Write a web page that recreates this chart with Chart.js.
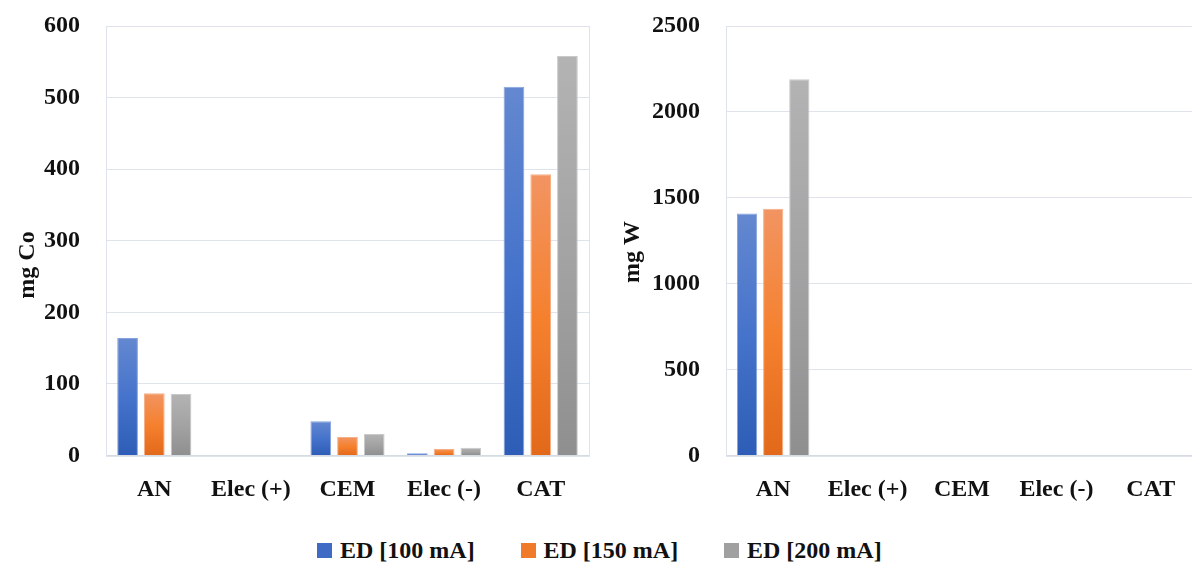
<!DOCTYPE html>
<html>
<head>
<meta charset="utf-8">
<title>Co and W mass balance</title>
<script src="https://cdn.jsdelivr.net/npm/chart.js@4.4.1/dist/chart.umd.min.js"></script>
<style>
  html, body { margin: 0; padding: 0; background: #fff; width: 1192px; height: 562px; overflow: hidden; position: relative; }
  #coBox { position: absolute; left: 0; top: 0; width: 600px; height: 520px; }
  #wBox { position: absolute; left: 600px; top: 0; width: 612px; height: 520px; }
  #legend { position: absolute; left: 317px; top: 536px; height: 28px; display: flex; }
  .item { width: 203.5px; display: flex; align-items: center; font: bold 24px "Liberation Serif", serif; color: #111; white-space: nowrap; }
  .swatch { width: 15px; height: 15px; margin-right: 8px; flex: none; }
</style>
</head>
<body>
<div id="coBox"><canvas id="coChart"></canvas></div>
<div id="wBox"><canvas id="wChart"></canvas></div>
<div id="legend"></div>
<script>
// Compartments of the electrodialysis cell
const categories = ['AN', 'Elec (+)', 'CEM', 'Elec (-)', 'CAT'];
const seriesNames = ['ED [100 mA]', 'ED [150 mA]', 'ED [200 mA]'];

// Cobalt found in each compartment (mg)
const co100 = [164, 0, 48, 3, 515];
const co150 = [87, 0, 26, 9, 393];
const co200 = [86, 0, 30, 11, 558];

// Tungsten found in each compartment (mg)
const w100 = [1408, 0, 0, 0, 0];
const w150 = [1436, 0, 0, 0, 0];
const w200 = [2190, 0, 0, 0, 0];

// Value axes
const coAxis = { min: 0, max: 600, step: 100, title: 'mg Co' };
const wAxis = { min: 0, max: 2500, step: 500, title: 'mg W' };

// Fill styles: top, middle, bottom gradient stops, outline and legend swatch
const palette = [
  { stops: ['#6488d0', '#4673cb', '#2d5db6'], edge: '#86a2dd', swatch: '#3f6bc4' },
  { stops: ['#f29462', '#f5812f', '#e2691a'], edge: '#f6ae84', swatch: '#ef7a2a' },
  { stops: ['#b3b3b3', '#a3a3a3', '#8f8f8f'], edge: '#c9c9c9', swatch: '#a0a0a0' }
];

const FONT = '"Liberation Serif", serif';
const GRID = '#dfe3eb';

function gradientFill(stops) {
  return (ctx) => {
    const chart = ctx.chart;
    if (!chart.chartArea || ctx.type !== 'data') return stops[1];
    const y = chart.scales.y;
    const top = y.getPixelForValue(ctx.raw);
    const bottom = y.getPixelForValue(0);
    if (bottom - top < 1) return stops[0];
    const g = chart.ctx.createLinearGradient(0, top, 0, bottom);
    g.addColorStop(0, stops[0]);
    g.addColorStop(0.5, stops[1]);
    g.addColorStop(1, stops[2]);
    return g;
  };
}

// Plot frame drawn behind the bars
const framePlugin = {
  id: 'frame',
  beforeDatasetsDraw(chart) {
    const a = chart.chartArea, c = chart.ctx;
    c.save();
    c.strokeStyle = GRID;
    c.lineWidth = 1;
    c.strokeRect(Math.round(a.left) + 0.5, Math.round(a.top) + 0.5,
                 Math.round(a.right - a.left), Math.round(a.bottom - a.top));
    c.restore();
  }
};

// Rotated value-axis caption
const sideTitlePlugin = {
  id: 'sideTitle',
  afterDraw(chart, args, opts) {
    const c = chart.ctx;
    c.save();
    c.translate(opts.x, opts.y);
    c.rotate(-Math.PI / 2);
    c.font = 'bold 24px ' + FONT;
    c.fillStyle = '#111';
    c.textAlign = 'center';
    c.textBaseline = 'middle';
    c.fillText(opts.text, 0, 0);
    c.restore();
  }
};

function makeChart(canvasId, seriesValues, axis, geom) {
  const datasets = seriesValues.map((vals, i) => ({
    label: seriesNames[i],
    data: vals,
    backgroundColor: gradientFill(palette[i].stops),
    borderColor: palette[i].edge,
    borderWidth: (ctx) => (ctx.raw === 0 ? 0 : 1),
    categoryPercentage: 0.83,
    barPercentage: 0.775
  }));
  return new Chart(document.getElementById(canvasId), {
    type: 'bar',
    data: { labels: categories, datasets },
    plugins: [framePlugin, sideTitlePlugin],
    options: {
      responsive: true,
      maintainAspectRatio: false,
      animation: false,
      layout: { padding: { left: geom.padLeft, right: geom.padRight, top: 26, bottom: 14.5 } },
      plugins: {
        legend: { display: false },
        tooltip: { enabled: false },
        sideTitle: { text: axis.title, x: geom.titleX, y: geom.titleY }
      },
      scales: {
        x: {
          grid: { display: false, drawTicks: false },
          border: { display: true, color: '#d6dae3', width: 1 },
          ticks: { font: { family: FONT, size: 24, weight: 'bold' }, color: '#111', padding: 20, maxRotation: 0 },
          afterFit: (s) => { s.height = 50; }
        },
        y: {
          min: axis.min,
          max: axis.max,
          grid: { color: GRID, lineWidth: 1, drawTicks: false },
          border: { display: false },
          ticks: {
            stepSize: axis.step,
            font: { family: FONT, size: 24, weight: 'bold' },
            color: '#111',
            padding: 26,
            callback: (v) => String(v)
          },
          afterFit: (s) => {
            s.width = geom.axisWidth;
            s.paddingTop = 0;
            s.paddingBottom = 0;
          }
        }
      }
    }
  });
}

makeChart('coChart', [co100, co150, co200], coAxis,
  { padLeft: 12, padRight: 11, axisWidth: 94, titleX: 27.5, titleY: 265 });
makeChart('wChart', [w100, w150, w200], wAxis,
  { padLeft: 17, padRight: 14, axisWidth: 109, titleX: 33, titleY: 252 });

// Shared legend
const legend = document.getElementById('legend');
seriesNames.forEach((name, i) => {
  const item = document.createElement('div');
  item.className = 'item';
  const sw = document.createElement('span');
  sw.className = 'swatch';
  sw.style.background = palette[i].swatch;
  const tx = document.createElement('span');
  tx.textContent = name;
  item.appendChild(sw);
  item.appendChild(tx);
  legend.appendChild(item);
});
</script>
</body>
</html>
